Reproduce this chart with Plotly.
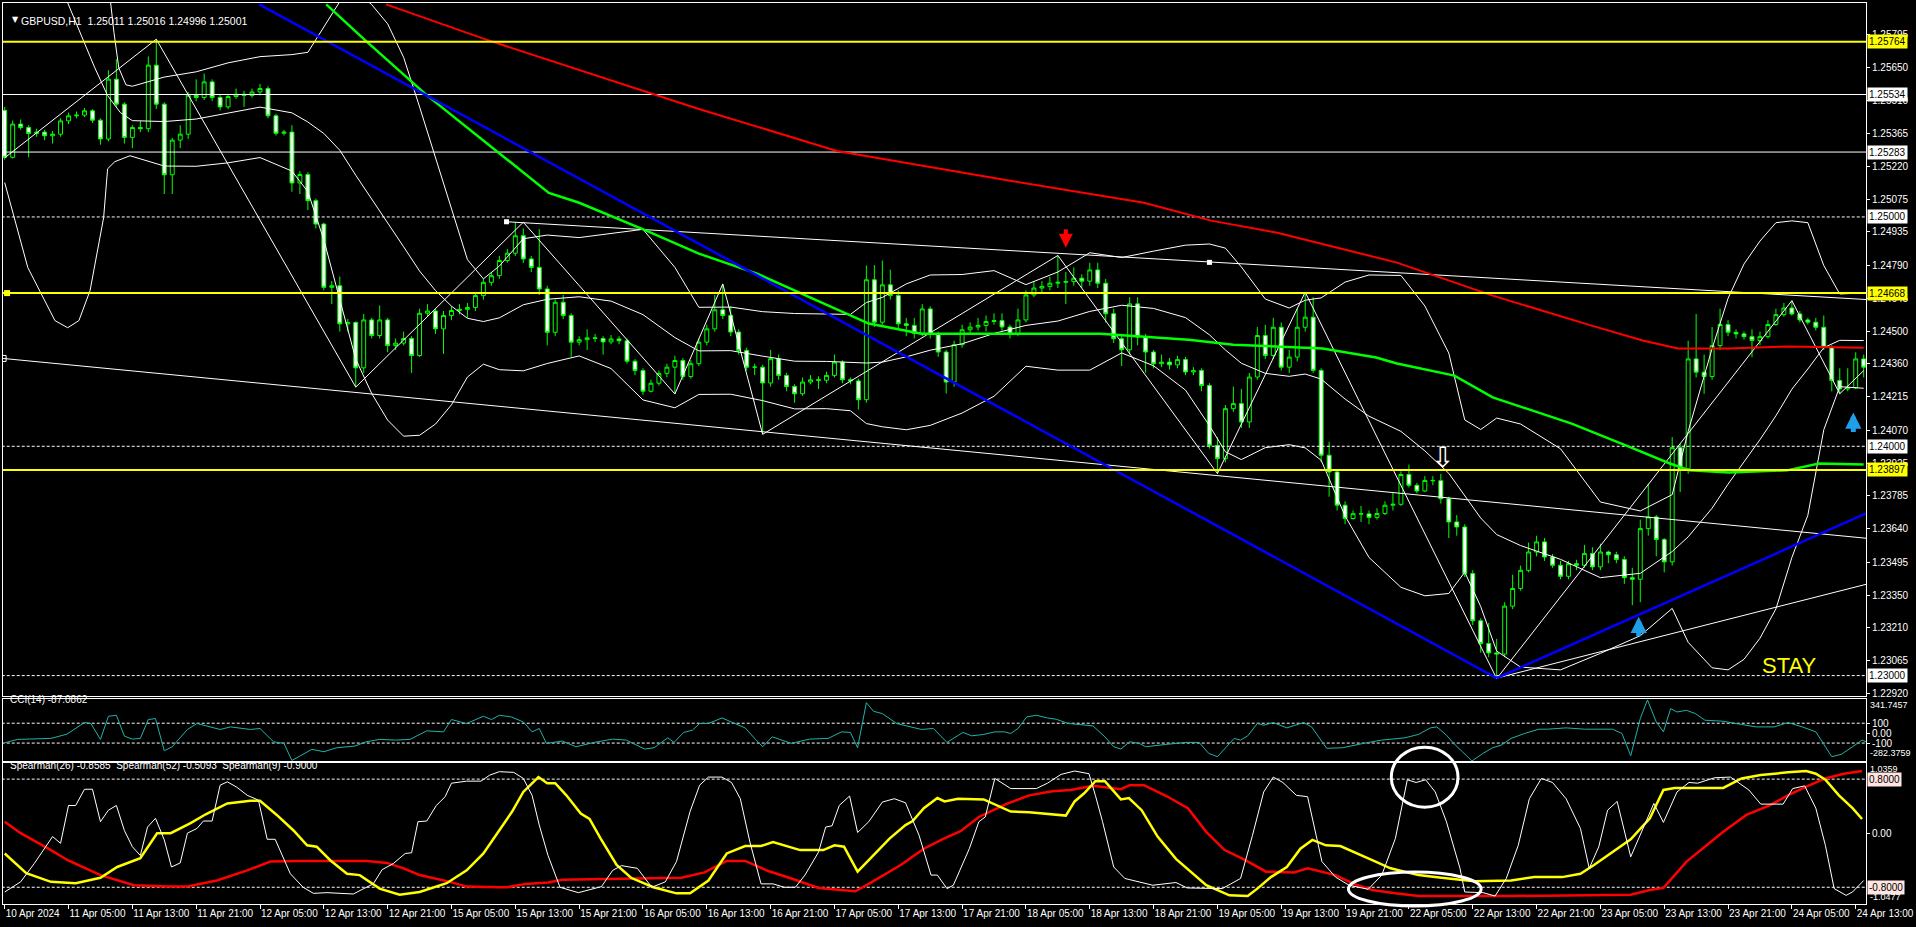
import plotly.graph_objects as go

FONT = "Liberation Sans"

# ---------------- data ----------------
tick_bars = [0, 8, 16, 24, 32, 40, 48, 56, 64, 72, 80, 88, 96, 104, 112, 120, 128, 136, 144, 152,
             160, 168, 176, 184, 192, 200, 208, 216, 224, 232]
tick_labels = ["10 Apr 2024", "11 Apr 05:00", "11 Apr 13:00", "11 Apr 21:00", "12 Apr 05:00", "12 Apr 13:00",
               "12 Apr 21:00", "15 Apr 05:00", "15 Apr 13:00", "15 Apr 21:00", "16 Apr 05:00", "16 Apr 13:00",
               "16 Apr 21:00", "17 Apr 05:00", "17 Apr 13:00", "17 Apr 21:00", "18 Apr 05:00", "18 Apr 13:00",
               "18 Apr 21:00", "19 Apr 05:00", "19 Apr 13:00", "19 Apr 21:00", "22 Apr 05:00", "22 Apr 13:00",
               "22 Apr 21:00", "23 Apr 05:00", "23 Apr 13:00", "23 Apr 21:00", "24 Apr 05:00", "24 Apr 13:00"]

first_open = 1.25465
close = [
    1.25260, 1.25405, 1.25390, 1.25364, 1.25370, 1.25354, 1.25361, 1.25419, 1.25441, 1.25444,
    1.25463, 1.25422, 1.25340, 1.25601, 1.25492, 1.25347, 1.25390, 1.25385, 1.25662, 1.25492,
    1.25184, 1.25335, 1.25361, 1.25531, 1.25521, 1.25589, 1.25521, 1.25480, 1.25525, 1.25535,
    1.25530, 1.25545, 1.25560, 1.25441, 1.25365, 1.25370, 1.25148, 1.25185, 1.25071, 1.24969,
    1.24693, 1.24700, 1.24534, 1.24540, 1.24342, 1.24551, 1.24483, 1.24551, 1.24439, 1.24450,
    1.24470, 1.24396, 1.24580, 1.24590, 1.24512, 1.24570, 1.24592, 1.24597, 1.24605, 1.24657,
    1.24715, 1.24744, 1.24810, 1.24842, 1.24918, 1.24817, 1.24780, 1.24686, 1.24497, 1.24628,
    1.24570, 1.24454, 1.24465, 1.24473, 1.24470, 1.24455, 1.24468, 1.24460, 1.24371, 1.24330,
    1.24240, 1.24275, 1.24318, 1.24345, 1.24374, 1.24304, 1.24360, 1.24454, 1.24512, 1.24595,
    1.24570, 1.24498, 1.24418, 1.24345, 1.24345, 1.24276, 1.24382, 1.24309, 1.24261, 1.24229,
    1.24280, 1.24290, 1.24288, 1.24309, 1.24367, 1.24290, 1.24285, 1.24203, 1.24726, 1.24541,
    1.24704, 1.24657, 1.24534, 1.24527, 1.24493, 1.24599, 1.24490, 1.24411, 1.24280, 1.24443,
    1.24508, 1.24520, 1.24527, 1.24544, 1.24548, 1.24520, 1.24490, 1.24551, 1.24660, 1.24690,
    1.24697, 1.24711, 1.24715, 1.24718, 1.24733, 1.24720, 1.24769, 1.24711, 1.24578, 1.24469,
    1.24421, 1.24621, 1.24476, 1.24411, 1.24360, 1.24367, 1.24355, 1.24378, 1.24324, 1.24330,
    1.24265, 1.24004, 1.23946, 1.24164, 1.24186, 1.24106, 1.24302, 1.24483, 1.24396, 1.24519,
    1.24345, 1.24389, 1.24519, 1.24563, 1.24331, 1.23961, 1.23888, 1.23743, 1.23685, 1.23706,
    1.23705, 1.23690, 1.23707, 1.23743, 1.23747, 1.23877, 1.23830, 1.23805, 1.23851, 1.23850,
    1.23771, 1.23670, 1.23648, 1.23445, 1.23239, 1.23140, 1.23099, 1.23094, 1.23303, 1.23380,
    1.23459, 1.23539, 1.23583, 1.23517, 1.23481, 1.23433, 1.23488, 1.23481, 1.23532, 1.23474,
    1.23539, 1.23527, 1.23506, 1.23427, 1.23420, 1.23641, 1.23692, 1.23593, 1.23496, 1.23994,
    1.23902, 1.24381, 1.24323, 1.24304, 1.24439, 1.24531, 1.24497, 1.24490, 1.24478, 1.24461,
    1.24478, 1.24531, 1.24574, 1.24603, 1.24577, 1.24551, 1.24541, 1.24519, 1.24432, 1.24287,
    1.24250, 1.24255, 1.24381, 1.24345]
high = [
    1.25480, 1.25420, 1.25425, 1.25400, 1.25385, 1.25380, 1.25375, 1.25430, 1.25455, 1.25460,
    1.25475, 1.25470, 1.25430, 1.25640, 1.25688, 1.25500, 1.25400, 1.25420, 1.25700, 1.25775,
    1.25500, 1.25345, 1.25400, 1.25545, 1.25600, 1.25625, 1.25600, 1.25535, 1.25535, 1.25560,
    1.25550, 1.25560, 1.25580, 1.25570, 1.25450, 1.25380, 1.25400, 1.25200, 1.25195, 1.25080,
    1.24975, 1.24720, 1.24740, 1.24555, 1.24545, 1.24577, 1.24560, 1.24614, 1.24560, 1.24470,
    1.24500, 1.24480, 1.24600, 1.24620, 1.24600, 1.24590, 1.24610, 1.24620, 1.24625, 1.24670,
    1.24730, 1.24760, 1.24830, 1.24860, 1.24977, 1.24950, 1.24830, 1.24947, 1.24700, 1.24640,
    1.24660, 1.24580, 1.24480, 1.24510, 1.24490, 1.24480, 1.24485, 1.24480, 1.24470, 1.24380,
    1.24340, 1.24290, 1.24330, 1.24360, 1.24395, 1.24385, 1.24375, 1.24470, 1.24530, 1.24660,
    1.24708, 1.24610, 1.24510, 1.24430, 1.24360, 1.24355, 1.24420, 1.24400, 1.24320, 1.24270,
    1.24300, 1.24310, 1.24305, 1.24325, 1.24400, 1.24375, 1.24300, 1.24295, 1.24788, 1.24790,
    1.24810, 1.24770, 1.24680, 1.24560, 1.24560, 1.24620, 1.24610, 1.24500, 1.24420, 1.24460,
    1.24530, 1.24540, 1.24560, 1.24570, 1.24580, 1.24580, 1.24530, 1.24600, 1.24680, 1.24720,
    1.24720, 1.24740, 1.24832, 1.24760, 1.24780, 1.24750, 1.24800, 1.24800, 1.24730, 1.24600,
    1.24480, 1.24650, 1.24650, 1.24490, 1.24420, 1.24400, 1.24385, 1.24395, 1.24390, 1.24345,
    1.24340, 1.24275, 1.24040, 1.24180, 1.24260, 1.24250, 1.24320, 1.24520, 1.24530, 1.24560,
    1.24540, 1.24420, 1.24600, 1.24672, 1.24650, 1.24340, 1.24020, 1.23900, 1.23760, 1.23720,
    1.23740, 1.23720, 1.23730, 1.23760, 1.23800, 1.23890, 1.23920, 1.23840, 1.23870, 1.23870,
    1.23880, 1.23780, 1.23700, 1.23660, 1.23460, 1.23250, 1.23230, 1.23160, 1.23320, 1.23440,
    1.23480, 1.23580, 1.23610, 1.23600, 1.23530, 1.23500, 1.23500, 1.23505, 1.23570, 1.23560,
    1.23575, 1.23545, 1.23540, 1.23520, 1.23470, 1.23680, 1.23837, 1.23700, 1.23600, 1.24040,
    1.24010, 1.24460, 1.24577, 1.24400, 1.24520, 1.24600, 1.24550, 1.24510, 1.24500, 1.24510,
    1.24500, 1.24550, 1.24600, 1.24625, 1.24635, 1.24590, 1.24560, 1.24560, 1.24570, 1.24440,
    1.24340, 1.24340, 1.24410, 1.24400]
low = [
    1.25250, 1.25255, 1.25380, 1.25260, 1.25350, 1.25335, 1.25320, 1.25350, 1.25405, 1.25430,
    1.25435, 1.25410, 1.25315, 1.25330, 1.25480, 1.25320, 1.25300, 1.25370, 1.25370, 1.25470,
    1.25100, 1.25100, 1.25300, 1.25340, 1.25505, 1.25510, 1.25505, 1.25465, 1.25470, 1.25515,
    1.25480, 1.25520, 1.25530, 1.25430, 1.25355, 1.25355, 1.25110, 1.25100, 1.25030, 1.24950,
    1.24680, 1.24620, 1.24500, 1.24500, 1.24258, 1.24320, 1.24470, 1.24470, 1.24410, 1.24420,
    1.24440, 1.24320, 1.24390, 1.24565, 1.24490, 1.24403, 1.24550, 1.24575, 1.24560, 1.24590,
    1.24640, 1.24700, 1.24730, 1.24800, 1.24830, 1.24800, 1.24760, 1.24660, 1.24440, 1.24480,
    1.24555, 1.24390, 1.24440, 1.24420, 1.24455, 1.24400, 1.24445, 1.24445, 1.24360, 1.24310,
    1.24225, 1.24235, 1.24265, 1.24300, 1.24228, 1.24290, 1.24295, 1.24350, 1.24440, 1.24500,
    1.24555, 1.24480, 1.24400, 1.24330, 1.24310, 1.24052, 1.24260, 1.24290, 1.24240, 1.24190,
    1.24220, 1.24270, 1.24250, 1.24275, 1.24300, 1.24275, 1.24270, 1.24160, 1.24190, 1.24520,
    1.24530, 1.24640, 1.24510, 1.24480, 1.24470, 1.24480, 1.24470, 1.24390, 1.24230, 1.24260,
    1.24430, 1.24490, 1.24505, 1.24500, 1.24530, 1.24505, 1.24470, 1.24480, 1.24540, 1.24650,
    1.24670, 1.24680, 1.24690, 1.24620, 1.24700, 1.24690, 1.24700, 1.24690, 1.24540, 1.24450,
    1.24350, 1.24400, 1.24440, 1.24320, 1.24340, 1.24345, 1.24335, 1.24340, 1.24310, 1.24310,
    1.24240, 1.23990, 1.23881, 1.23930, 1.24150, 1.24080, 1.24080, 1.24290, 1.24380, 1.24380,
    1.24330, 1.24320, 1.24370, 1.24500, 1.24320, 1.23930, 1.23780, 1.23720, 1.23660, 1.23680,
    1.23670, 1.23660, 1.23680, 1.23700, 1.23720, 1.23740, 1.23820, 1.23795, 1.23800, 1.23830,
    1.23750, 1.23600, 1.23610, 1.23430, 1.23220, 1.23100, 1.23080, 1.22987, 1.23080, 1.23290,
    1.23370, 1.23450, 1.23520, 1.23500, 1.23470, 1.23420, 1.23420, 1.23460, 1.23470, 1.23460,
    1.23460, 1.23490, 1.23490, 1.23400, 1.23307, 1.23320, 1.23610, 1.23520, 1.23450, 1.23480,
    1.23800, 1.23880, 1.24300, 1.24229, 1.24290, 1.24420, 1.24480, 1.24470, 1.24465, 1.24388,
    1.24440, 1.24470, 1.24525, 1.24565, 1.24570, 1.24540, 1.24530, 1.24505, 1.24420, 1.24240,
    1.24229, 1.24240, 1.24250, 1.24300]

# moving averages (read as polylines: bar index, price)
ma_red_x = [47.8, 60.9, 87.0, 104.3, 126.0, 142.8, 151.2, 159.5, 174.5, 186.5, 198.9, 205.3, 209.7, 216.1, 223.4, 233.0]
ma_red_y = [1.25927, 1.25767, 1.25471, 1.25288, 1.25158, 1.25062, 1.24984, 1.24931, 1.24801, 1.24657, 1.24526,
            1.24461, 1.24426, 1.24426, 1.24435, 1.24430]
ma_green_x = [40.3, 45.3, 53.0, 62.0, 68.2, 72.0, 80.4, 87.0, 94.3, 101.0, 108.3, 114.9, 137.3, 148.4, 154.0, 165.2,
              171.9, 174.5, 181.7, 186.5, 196.4, 203.8, 208.7, 211.2, 216.1, 223.4, 227.4, 233.0]
ma_green_y = [1.25927, 1.25767, 1.25528, 1.25280, 1.25105, 1.25062, 1.24940, 1.24840, 1.24753, 1.24648, 1.24535,
              1.24491, 1.24491, 1.24465, 1.24443, 1.24426, 1.24387, 1.24361, 1.24308, 1.24213, 1.24099, 1.23995,
              1.23925, 1.23895, 1.23886, 1.23895, 1.23925, 1.23921]

# Bollinger bands (upper / middle / lower), read as polylines
bb_up_x = [13.0, 13.7, 14.3, 15.2, 16, 20, 24, 28, 32, 36, 38, 40, 42, 44, 46, 48, 50, 52, 54, 56, 58, 60, 62, 65,
           68, 72, 76, 80, 84, 87, 91, 95, 99, 103, 106, 108, 110, 113, 116, 120, 124, 128, 132, 136, 140, 144,
           148, 151, 153, 155, 158, 161, 163, 165, 168, 171, 175, 178, 181, 183, 185, 187, 190, 195, 200, 205,
           209, 211, 214, 216, 218, 220, 222, 224, 226, 228, 230, 233]
bb_up_y = [1.26020, 1.25803, 1.25650, 1.25576, 1.25570, 1.25610, 1.25633, 1.25672, 1.25699, 1.25708, 1.25718,
           1.25828, 1.25939, 1.25984, 1.25926, 1.25842, 1.25696, 1.25480, 1.25261, 1.25041, 1.24814, 1.24730,
           1.24786, 1.24905, 1.24921, 1.24910, 1.24927, 1.24946, 1.24780, 1.24606, 1.24607, 1.24587, 1.24579,
           1.24576, 1.24575, 1.24627, 1.24649, 1.24708, 1.24747, 1.24749, 1.24766, 1.24705, 1.24760, 1.24844,
           1.24823, 1.24851, 1.24877, 1.24882, 1.24864, 1.24782, 1.24642, 1.24603, 1.24637, 1.24647, 1.24716,
           1.24747, 1.24745, 1.24612, 1.24406, 1.24115, 1.24073, 1.24123, 1.24097, 1.23989, 1.23757, 1.23718,
           1.23789, 1.24065, 1.24426, 1.24645, 1.24795, 1.24895, 1.24975, 1.24983, 1.24975, 1.24788, 1.24664,
           1.24669]
bb_mid_x = [7.1, 7.9, 9.5, 11.3, 12.9, 14.5, 16, 20, 24, 28, 32, 36, 38, 40, 42, 44, 46, 48, 50, 52, 54, 56, 58, 60,
            62, 65, 68, 72, 76, 80, 84, 87, 91, 95, 99, 103, 106, 108, 110, 113, 116, 120, 124, 128, 132, 136, 140,
            144, 148, 151, 153, 155, 158, 161, 163, 165, 168, 171, 175, 178, 181, 183, 185, 187, 190, 195, 200, 205,
            209, 211, 214, 216, 218, 220, 222, 224, 226, 228, 230, 233]
bb_mid_y = [1.26000, 1.25933, 1.25798, 1.25650, 1.25529, 1.25455, 1.25420, 1.25416, 1.25427, 1.25454, 1.25479,
            1.25454, 1.25414, 1.25364, 1.25291, 1.25182, 1.25078, 1.24978, 1.24870, 1.24764, 1.24679, 1.24611,
            1.24558, 1.24544, 1.24560, 1.24617, 1.24641, 1.24652, 1.24633, 1.24574, 1.24474, 1.24416, 1.24417,
            1.24393, 1.24371, 1.24370, 1.24365, 1.24363, 1.24367, 1.24390, 1.24419, 1.24447, 1.24492, 1.24527,
            1.24546, 1.24588, 1.24615, 1.24601, 1.24561, 1.24486, 1.24420, 1.24362, 1.24318, 1.24305, 1.24315,
            1.24293, 1.24206, 1.24131, 1.24065, 1.23980, 1.23882, 1.23783, 1.23687, 1.23615, 1.23567, 1.23507,
            1.23427, 1.23446, 1.23541, 1.23605, 1.23730, 1.23835, 1.23933, 1.24029, 1.24133, 1.24249, 1.24337,
            1.24430, 1.24462, 1.24461]
bb_low_x = [0, 2.9, 6.3, 7.9, 9.3, 10.7, 12.4, 12.9, 13.8, 15.7, 20, 24, 28, 32, 36, 38, 40, 42, 44, 46, 48, 50, 52,
            54, 56, 58, 60, 62, 65, 68, 72, 76, 80, 84, 87, 91, 95, 99, 103, 106, 108, 110, 113, 116, 120, 124, 128,
            132, 136, 140, 144, 148, 151, 153, 155, 158, 161, 163, 165, 168, 171, 175, 178, 181, 183, 185, 187, 190,
            195, 200, 205, 209, 211, 214, 216, 218, 220, 222, 224, 226, 228, 230, 233]
bb_low_y = [1.25150, 1.24779, 1.24548, 1.24517, 1.24548, 1.24679, 1.24997, 1.25210, 1.25241, 1.25267, 1.25222,
            1.25221, 1.25236, 1.25259, 1.25200, 1.25110, 1.24900, 1.24643, 1.24380, 1.24230, 1.24114, 1.24044,
            1.24048, 1.24097, 1.24181, 1.24302, 1.24358, 1.24334, 1.24329, 1.24361, 1.24394, 1.24339, 1.24202,
            1.24168, 1.24226, 1.24227, 1.24199, 1.24163, 1.24164, 1.24155, 1.24099, 1.24085, 1.24072, 1.24091,
            1.24145, 1.24218, 1.24349, 1.24332, 1.24332, 1.24407, 1.24351, 1.24245, 1.24090, 1.23976, 1.23942,
            1.23994, 1.24007, 1.23993, 1.23939, 1.23696, 1.23515, 1.23385, 1.23348, 1.23358, 1.23451, 1.23301,
            1.23107, 1.23037, 1.23025, 1.23097, 1.23174, 1.23293, 1.23145, 1.23034, 1.23025, 1.23071, 1.23163,
            1.23291, 1.23515, 1.23699, 1.24072, 1.24260, 1.24253]

zigzag_x = [0, 19, 44, 65, 84, 90, 95, 132, 152, 163, 187, 224, 230, 233]
zigzag_y = [1.25258, 1.25775, 1.24258, 1.24977, 1.24228, 1.24708, 1.24052, 1.24832, 1.23881, 1.24672, 1.22987,
            1.24635, 1.24229, 1.24330]

yellow_levels = [1.25764, 1.24668, 1.23897]
white_levels = [1.25534, 1.25283]
dashed_levels = [1.25000, 1.24000, 1.23000]

gray_trend_x = [-0.2, 233.3]
gray_trend_y = [1.24383, 1.23599]
upper_trend_x = [62.9, 233.3]
upper_trend_y = [1.24979, 1.24640]
rising_trend_x = [187, 233.3]
rising_trend_y = [1.22989, 1.23398]
blue_down_x = [31.9, 187]
blue_down_y = [1.25927, 1.22989]
blue_up_x = [187, 233.3]
blue_up_y = [1.22989, 1.23707]

main_ticks = [1.25795, 1.25650, 1.25510, 1.25365, 1.25220, 1.25075, 1.24935, 1.24790, 1.24645, 1.24500, 1.24360,
              1.24215, 1.24070, 1.23925, 1.23785, 1.23640, 1.23495, 1.23350, 1.23210, 1.23065, 1.22920]
boxed_levels = [1.25764, 1.25534, 1.25283, 1.25000, 1.24668, 1.24000, 1.23897, 1.23000]
boxed_colors = ["#FFFF00", "#FFFFFF", "#FFFFFF", "#FFFFFF", "#FFFF00", "#FFFFFF", "#FFFF00", "#FFFFFF"]

cci_range = [-282.3759, 341.7457]
cci_ticks = [100, 0, -100]
cci_tick_text = ["100", "0.00", "-100"]
sp_range = [-1.0477, 1.0359]

# CCI(14) polyline
cci_x = [0, 1.6, 5.8, 7.8, 10, 10.8, 12, 13, 14, 15, 16, 17, 18, 18.9, 20, 21, 22.9, 24.1, 27, 28.3, 30.8, 32, 33.7,
         35, 36, 38.5, 40, 41.6, 43.9, 45.3, 47, 49, 50.8, 52.9, 55, 56, 57.9, 60, 61, 62, 63.5, 65, 66.1, 67, 67.9,
         69.9, 71.6, 73.9, 76.2, 77.9, 80.2, 81.4, 83.1, 83.9, 85.1, 86.2, 87.1, 88.2, 89.9, 91.1, 92.8, 94, 95,
         96.2, 98.6, 100.9, 103.2, 104.9, 106, 106.9, 108, 108.9, 110, 111.8, 113.5, 114.9, 116.4, 118.1, 120.1,
         121.2, 122.7, 124.1, 125.3, 126.1, 127, 128.1, 129.3, 130.7, 131.8, 133.3, 134.7, 136.4, 137.9, 139, 139.9,
         141, 142.2, 143, 145.6, 148.2, 149.7, 150.9, 152, 154.1, 154.9, 155.8, 157, 157.8, 159, 160.7, 162.8, 163.8,
         165.7, 167.7, 170.3, 172.6, 175.5, 177.2, 178.7, 179.5, 180.7, 181.6, 182.7, 183.9, 185.3, 186.5, 187.6,
         188.8, 190.5, 192.3, 193.4, 195.7, 198, 201.5, 202.7, 203.8, 205, 205.9, 207, 207.9, 208.8, 209.6, 210.8,
         211.9, 213.1, 215.4, 217.7, 219.5, 221.8, 223.5, 225.3, 227, 229, 230.2, 231.6, 232.8, 233.3]
cci_y = [-97, -63, -53, -10, 107, 97, -63, 170, 180, -30, -60, -53, 137, 147, -177, -137, 37, 97, 37, 63, 37, 47, -87,
         -103, -275, -163, -187, -147, -130, -87, -63, -70, -63, 23, 13, 137, 97, 170, 137, 180, 163, 113, 13, 47,
         -103, -80, -137, -93, -60, -70, -160, -147, -47, -93, 7, 30, 97, 97, 153, 113, 53, -53, -137, -37, -103,
         -60, -53, 13, 7, -147, 307, 220, 197, 97, 63, 37, 47, -93, 7, -27, -13, 13, 13, -3, 47, 163, 180, 153, 140,
         97, 87, 73, -37, -137, -160, -87, -103, -137, -113, -93, -93, -203, -237, -53, -70, -27, 97, 80, 107, 53,
         107, 63, -153, -147, -103, -70, -47, -13, 53, 63, -20, -103, -187, -280, -203, -147, -120, -53, -3, 40, 40,
         53, 40, 40, -3, -227, 147, 335, 113, 13, 247, 213, 230, 197, 130, 120, 87, 63, 63, 107, 63, 13, -237, -213,
         -137, -70, -87]

# Spearman lines (polylines)
sp9_x = [0, 2, 3.7, 6, 7, 8, 8.9, 10, 11, 12, 13, 14, 15, 16, 17, 17.9, 18.9, 20, 20.9, 22, 22.9, 24.1, 24.9, 26, 27,
         27.9, 29.1, 30.4, 31.8, 32.9, 33.9, 35.8, 37.4, 38.7, 40.4, 43.7, 45, 46.2, 47.3, 48.7, 50.2, 51, 51.8,
         52.9, 54.1, 55.2, 56, 57.9, 59.7, 60.8, 62, 63.8, 65, 66.1, 67, 68.1, 69.6, 71.9, 74.8, 76.2, 77.3, 79.3,
         81.1, 82.8, 84.2, 85.9, 87.1, 88.2, 89.9, 91.1, 92.2, 93.4, 94.8, 96.3, 97.7, 99.1, 100.3, 102, 102.9, 103.7,
         104.6, 105.9, 106.9, 108.3, 110, 111.5, 112.9, 114.6, 116.1, 116.9, 118.1, 118.9, 120.9, 122.1, 122.9,
         124.1, 126.1, 129.3, 130.7, 132.4, 134.1, 135.9, 136.7, 137.6, 139, 140.4, 143.9, 146.8, 148.2, 152.6,
         154.9, 156.4, 157.8, 159, 160.2, 161.9, 163.3, 165.1, 166.8, 168.5, 170.9, 172.6, 174.3, 175.8, 176.9,
         178.1, 179.3, 180.7, 182.4, 183, 185.3, 186.8, 188.2, 189.7, 191.1, 192.6, 194, 195.7, 197.5, 198.6, 199.8,
         200.9, 202.1, 203.8, 205.6, 206.7, 207.9, 209.6, 211.1, 212.2, 214.3, 216.3, 218.6, 220.1, 222.9, 224.1,
         225.6, 227, 228.2, 229.3, 230.8, 231.6, 233]
sp9_y = [-0.87, -0.72, -0.45, -0.05, -0.15, 0.41, 0.41, 0.65, 0.65, 0.17, 0.34, 0.41, 0.04, -0.20, -0.33, 0.09, 0.22,
         -0.10, -0.50, -0.44, 0.0, 0.07, 0.18, 0.18, 0.71, 0.76, 0.68, 0.56, 0.49, -0.09, -0.09, -0.60, -0.80, -0.89,
         -0.88, -0.90, -0.82, -0.75, -0.54, -0.45, -0.30, -0.29, 0.17, 0.18, 0.41, 0.54, 0.74, 0.77, 0.77, 0.86,
         0.91, 0.90, 0.81, 0.56, 0.12, -0.33, -0.80, -0.88, -0.79, -0.55, -0.48, -0.52, -0.80, -0.72, -0.42, 0.32,
         0.71, 0.83, 0.83, 0.75, 0.51, -0.13, -0.75, -0.75, -0.80, -0.80, -0.62, -0.28, 0.09, 0.11, 0.41, 0.55, 0.01,
         0.17, 0.46, 0.51, 0.45, -0.03, -0.62, -0.62, -0.82, -0.77, -0.23, 0.17, 0.24, 0.81, 0.66, 0.66, 0.74, 0.87,
         0.92, 0.88, 0.56, 0.17, -0.50, -0.67, -0.77, -0.73, -0.81, -0.82, -0.67, -0.03, 0.61, 0.83, 0.75, 0.56, 0.54,
         -0.42, -0.65, -0.77, -0.83, -0.62, -0.08, 0.79, 0.75, 0.79, 0.61, 0.17, -0.52, -0.87, -0.88, -0.93, -0.67,
         -0.18, 0.51, 0.81, 0.75, 0.51, 0.07, -0.52, -0.20, 0.34, 0.47, -0.35, 0.14, 0.44, 0.16, 0.61, 0.75, 0.74,
         0.82, 0.83, 0.64, 0.43, 0.43, 0.66, 0.70, 0.37, -0.18, -0.82, -0.92, -0.87, -0.70]
sp26_x = [0, 2.7, 5.8, 8.9, 12, 14.1, 17, 19.1, 20.8, 23.3, 25.2, 27.9, 30.8, 32, 34.1, 36.2, 37.9, 39.1, 40.8, 42.9,
          44.5, 47, 49.5, 52, 55.4, 57.9, 60, 62, 63.6, 65, 66.9, 68, 69, 70.4, 72.2, 73.3, 74.7, 76.7, 78.5, 81.3,
          84.2, 85.9, 88.2, 90.5, 92.8, 94.8, 96.3, 99.7, 102.6, 104, 105.2, 106.9, 108.3, 110.9, 112.9, 113.8, 115.2,
          116.9, 117.8, 119.5, 122.7, 124.4, 126.1, 128.4, 133, 134.1, 135.3, 136.7, 137.9, 139.9, 140.9, 142.5,
          144.5, 146.8, 149.5, 150.6, 153.5, 155.8, 157, 158.7, 160.7, 162.4, 163.9, 165.6, 167.4, 168.5, 171.4,
          173.7, 177.2, 180.1, 184.2, 188.8, 191.7, 195.2, 197.5, 199.2, 202.1, 203.8, 206.2, 207.9, 209.3, 211.9,
          215.4, 217.7, 220.1, 223.5, 225.8, 227, 228.2, 229.9, 231.6, 232.8]
sp26_y = [-0.30, -0.59, -0.72, -0.74, -0.66, -0.50, -0.37, 0.0, 0.0, 0.15, 0.28, 0.44, 0.48, 0.48, 0.27, 0.04, -0.18,
          -0.20, -0.40, -0.60, -0.62, -0.82, -0.91, -0.87, -0.74, -0.55, -0.30, 0.04, 0.32, 0.61, 0.83, 0.74, 0.74,
          0.56, 0.29, 0.21, -0.08, -0.47, -0.66, -0.80, -0.89, -0.89, -0.70, -0.30, -0.19, -0.19, -0.13, -0.25,
          -0.25, -0.18, -0.20, -0.57, -0.40, -0.08, 0.12, 0.18, 0.37, 0.52, 0.47, 0.51, 0.50, 0.41, 0.32, 0.31,
          0.26, 0.47, 0.59, 0.77, 0.77, 0.50, 0.52, 0.34, -0.05, -0.38, -0.66, -0.77, -0.92, -0.93, -0.82, -0.65,
          -0.50, -0.23, -0.10, -0.18, -0.19, -0.25, -0.40, -0.52, -0.62, -0.66, -0.71, -0.70, -0.65, -0.65, -0.60,
          -0.47, -0.23, -0.09, 0.22, 0.64, 0.67, 0.67, 0.67, 0.81, 0.86, 0.90, 0.92, 0.88, 0.79, 0.56, 0.37, 0.21]
sp52_x = [0, 2, 5.8, 7.9, 12, 16.2, 20.4, 22.9, 26.6, 30.4, 33.3, 37, 45.4, 47.9, 50, 52, 55.8, 57.9, 62, 63, 65.3,
          68.1, 69.9, 75.6, 84.8, 87.7, 90.5, 92.8, 95.7, 98.6, 102, 106.6, 108.3, 112.3, 115.2, 117.5, 119.8, 122.1,
          125.5, 128.4, 131.3, 133.6, 136.4, 139.9, 141, 142.8, 145.6, 148.3, 150.6, 152.9, 155.2, 158.1, 161.6,
          163.3, 166.8, 169.1, 171.4, 174.3, 177.2, 188.8, 203.8, 206.2, 207.9, 210.8, 213.1, 215.4, 218.3, 221.2,
          223.5, 225.8, 228.2, 230.5, 232.8]
sp52_y = [0.17, 0.0, -0.25, -0.40, -0.62, -0.77, -0.79, -0.79, -0.70, -0.55, -0.42, -0.41, -0.41, -0.44, -0.52,
          -0.62, -0.72, -0.79, -0.80, -0.80, -0.75, -0.73, -0.69, -0.68, -0.66, -0.58, -0.41, -0.41, -0.56, -0.67,
          -0.81, -0.86, -0.75, -0.47, -0.23, -0.09, 0.03, 0.24, 0.43, 0.56, 0.62, 0.64, 0.70, 0.65, 0.71, 0.71, 0.55,
          0.37, 0.02, -0.25, -0.38, -0.57, -0.58, -0.52, -0.62, -0.75, -0.84, -0.89, -0.93, -0.93, -0.91, -0.84,
          -0.81, -0.42, -0.20, 0.02, 0.27, 0.41, 0.56, 0.69, 0.81, 0.88, 0.92]

# ---------------- figure ----------------
bars = list(range(len(close)))
opens = [first_open] + close[:-1]
XR = [-0.2125, 233.29]
W = "#FFFFFF"

fig = go.Figure()

def hline(y, color, width, dash="solid"):
    fig.add_trace(go.Scatter(x=[-1, 240], y=[y, y], mode="lines", line=dict(color=color, width=width, dash=dash),
                             hoverinfo="skip", showlegend=False))

for lv in dashed_levels:
    hline(lv, W, 1, "3px,2px")
for lv in white_levels:
    hline(lv, W, 1)

def poly(x, y, color, width, xa="x", ya="y"):
    fig.add_trace(go.Scatter(x=x, y=y, mode="lines", line=dict(color=color, width=width), xaxis=xa, yaxis=ya,
                             hoverinfo="skip", showlegend=False))

poly(bb_up_x, bb_up_y, W, 1)
poly(bb_mid_x, bb_mid_y, W, 1)
poly(bb_low_x, bb_low_y, W, 1)
poly(zigzag_x, zigzag_y, W, 1)
poly(gray_trend_x, gray_trend_y, W, 1)
poly(upper_trend_x, upper_trend_y, W, 1)
poly(rising_trend_x, rising_trend_y, W, 1)
poly(ma_red_x, ma_red_y, "#FF0000", 2)
poly(ma_green_x, ma_green_y, "#00FF00", 2.5)
poly(blue_down_x, blue_down_y, "#0000FF", 2.5)
poly(blue_up_x, blue_up_y, "#0000FF", 2.5)
for lv in yellow_levels:
    hline(lv, "#FFFF00", 2)

fig.add_trace(go.Scatter(x=[upper_trend_x[0], 151], y=[upper_trend_y[0], 1.24802], mode="markers",
                         marker=dict(symbol="square", size=5, color=W), hoverinfo="skip", showlegend=False))
fig.add_trace(go.Scatter(x=[gray_trend_x[0]], y=[gray_trend_y[0]], mode="markers",
                         marker=dict(symbol="square-open", size=6, color=W), hoverinfo="skip", showlegend=False))
fig.add_trace(go.Scatter(x=[0.3], y=[yellow_levels[1]], mode="markers",
                         marker=dict(symbol="square", size=6, color="#FFFF00"), hoverinfo="skip", showlegend=False))

fig.add_trace(go.Candlestick(
    x=bars, open=opens, high=high, low=low, close=close,
    increasing=dict(line=dict(color="#00FF00", width=1), fillcolor="#000000"),
    decreasing=dict(line=dict(color="#00FF00", width=1), fillcolor="#FFFFFF"),
    whiskerwidth=0, hoverinfo="skip", showlegend=False))

# CCI panel
for lv in [100, -100]:
    fig.add_trace(go.Scatter(x=[-1, 240], y=[lv, lv], mode="lines", line=dict(color=W, width=1, dash="3px,2px"),
                             xaxis="x2", yaxis="y2", hoverinfo="skip", showlegend=False))
poly(cci_x, cci_y, "#20B2AA", 1, "x2", "y2")

# Spearman panel
for lv in [0.8, -0.8]:
    fig.add_trace(go.Scatter(x=[-1, 240], y=[lv, lv], mode="lines", line=dict(color=W, width=1, dash="3px,2px"),
                             xaxis="x3", yaxis="y3", hoverinfo="skip", showlegend=False))
poly(sp52_x, sp52_y, "#FF0000", 2.5, "x3", "y3")
poly(sp26_x, sp26_y, "#FFFF00", 2.5, "x3", "y3")
poly(sp9_x, sp9_y, W, 1, "x3", "y3")

axis_common = dict(showgrid=False, zeroline=False, showline=True, linecolor=W, linewidth=1, mirror=True)
tfont = dict(color=W, size=10, family=FONT)

annotations = []
for lv, bg in zip(boxed_levels, boxed_colors):
    annotations.append(dict(x=1, xref="paper", y=lv, yref="y", text=f"{lv:.5f}", showarrow=False, xanchor="left",
                            xshift=1, bgcolor=bg, font=dict(color="black", size=10, family=FONT), borderpad=1))
for lv in [0.8, -0.8]:
    annotations.append(dict(x=1, xref="paper", y=lv, yref="y3", text=f"{lv:.4f}", showarrow=False, xanchor="left",
                            xshift=1, bgcolor="#FFE4E1", font=dict(color="black", size=10, family=FONT), borderpad=1))

# extreme scale labels of the sub-windows sit just inside their panel
for val, yref, shift in [(cci_range[1], "y2", -6), (cci_range[0], "y2", 8),
                         (sp_range[1], "y3", -6), (sp_range[0], "y3", 7)]:
    annotations.append(dict(x=1, xref="paper", y=val, yref=yref, text=f"{val:.4f}", showarrow=False,
                            xanchor="left", xshift=2, yshift=shift, font=dict(color=W, size=9, family=FONT)))

annotations += [
    dict(x=0.0035, xref="paper", y=0.989, yref="paper", text="▼", showarrow=False, xanchor="left",
         font=dict(color=W, size=8, family="DejaVu Sans")),
    dict(x=0.0088, xref="paper", y=0.989, yref="paper", text="GBPUSD,H1  1.25011 1.25016 1.24996 1.25001",
         showarrow=False, xanchor="left", font=dict(color=W, size=10.5, family=FONT)),
    dict(x=0.0027, xref="paper", y=0.2184, yref="paper", text="CCI(14) -87.0862", showarrow=False, xanchor="left",
         font=dict(color=W, size=10, family=FONT)),
    dict(x=0.0027, xref="paper", y=0.1452, yref="paper",
         text="Spearman(26) -0.8585  Spearman(52) -0.5093  Spearman(9) -0.9000", showarrow=False, xanchor="left",
         font=dict(color=W, size=10, family=FONT)),
    dict(x=133, y=1.24866, xref="x", yref="y", text="", showarrow=True, ax=0, ay=-20, arrowhead=2, arrowsize=0.7,
         arrowwidth=4, arrowcolor="#FF0000"),
    dict(x=204.8, y=1.23257, xref="x", yref="y", text="", showarrow=True, ax=0, ay=21, arrowhead=2, arrowsize=0.65,
         arrowwidth=5, arrowcolor="#1E9FE8"),
    dict(x=231.7, y=1.24147, xref="x", yref="y", text="", showarrow=True, ax=0, ay=21, arrowhead=2, arrowsize=0.65,
         arrowwidth=5, arrowcolor="#1E9FE8"),
    dict(x=180.2, y=1.23951, xref="x", yref="y", text="⇩", showarrow=False,
         font=dict(color=W, size=28, family="DejaVu Sans")),
    dict(x=223.7, y=1.23045, xref="x", yref="y", text="STAY", showarrow=False,
         font=dict(color="#FFFF00", size=22, family=FONT)),
]

shapes = [
    dict(type="circle", xref="paper", yref="paper", x0=0.7452, x1=0.7810, y0=0.1075, y1=0.1741,
         line=dict(color=W, width=3)),
    dict(type="circle", xref="paper", yref="paper", x0=0.7222, x1=0.7934, y0=-0.0022, y1=0.0355,
         line=dict(color=W, width=3)),
]

fig.update_layout(
    width=1916, height=927,
    paper_bgcolor="#000000", plot_bgcolor="#000000",
    margin=dict(l=2, r=46, t=2, b=23),
    showlegend=False,
    font=dict(family=FONT, color=W),
    xaxis=dict(domain=[0, 1], range=XR, anchor="y", showticklabels=False, ticks="",
               rangeslider=dict(visible=False), **axis_common),
    yaxis=dict(domain=[0.2306, 1], range=[1.22910, 1.25933], anchor="x", side="right",
               tickvals=main_ticks, ticktext=[f"{t:.5f}" for t in main_ticks], ticks="outside", ticklen=3,
               tickcolor=W, tickfont=tfont, **axis_common),
    xaxis2=dict(domain=[0, 1], range=XR, matches="x", anchor="y2", showticklabels=False, ticks="", **axis_common),
    yaxis2=dict(domain=[0.1585, 0.2273], range=cci_range, anchor="x2", side="right",
                tickvals=cci_ticks, ticktext=cci_tick_text, ticks="outside", ticklen=3,
                tickcolor=W, tickfont=tfont, **axis_common),
    xaxis3=dict(domain=[0, 1], range=XR, matches="x", anchor="y3", tickvals=tick_bars, ticktext=tick_labels,
                ticks="outside", ticklen=4, tickcolor=W, tickangle=0, ticklabeloverflow="allow",
                tickfont=dict(color=W, size=10, family=FONT), ticklabelposition="outside right",
                **axis_common),
    yaxis3=dict(domain=[0, 0.1563], range=sp_range, anchor="x3", side="right",
                tickvals=[0], ticktext=["0.00"], ticks="outside", ticklen=3,
                tickcolor=W, tickfont=tfont, **axis_common),
    annotations=annotations,
    shapes=shapes,
)

fig.write_html("out.html", config={"displayModeBar": False},
               post_script="document.body.style.margin='0';document.body.style.overflow='hidden';")
